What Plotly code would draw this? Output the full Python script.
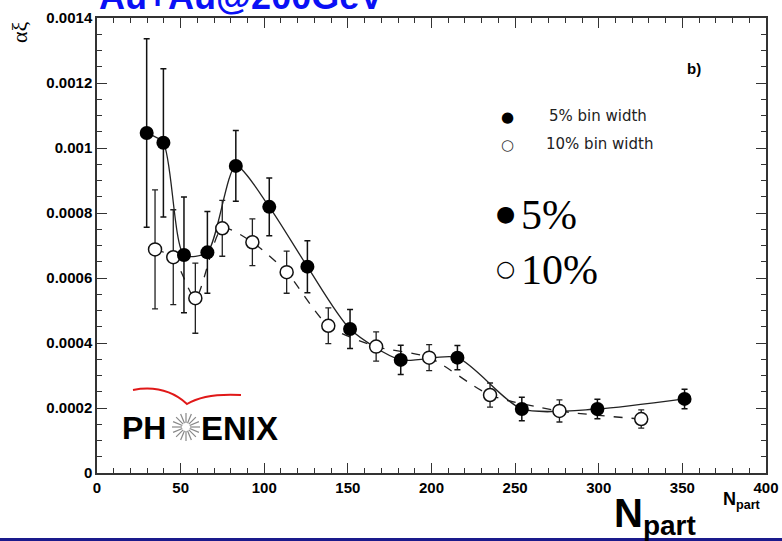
import numpy as np
import plotly.graph_objects as go

# ---- data ----
npart_5 = [29.7, 39.7, 52.0, 66.0, 83.0, 103.0, 125.8, 151.3, 181.6, 215.5, 254.0, 299.2, 351.3]
alpha_5 = [0.001046, 0.001016, 0.000671, 0.000679, 0.000945, 0.000819, 0.000635, 0.000443,
           0.000348, 0.000355, 0.000197, 0.000197, 0.000228]
err_5 = [0.00029, 0.000228, 0.000178, 0.000126, 0.000109, 0.000089, 0.00008, 0.00006,
         0.000045, 0.000037, 0.000036, 0.00003, 0.00003]

npart_10 = [34.7, 45.6, 58.8, 74.9, 92.9, 113.4, 138.3, 166.9, 198.6, 235.0, 276.5, 325.4]
alpha_10 = [0.000688, 0.000664, 0.000538, 0.000753, 0.00071, 0.000618, 0.000453, 0.000389,
            0.000355, 0.00024, 0.000191, 0.000166]
err_10 = [0.000183, 0.000146, 0.000108, 0.000086, 0.000072, 0.000065, 0.000055, 0.000045,
          0.00004, 0.000037, 0.000034, 0.000028]

xerr = 2.5
y_ticks = [0, 0.0002, 0.0004, 0.0006, 0.0008, 0.001, 0.0012, 0.0014]
y_ticktext = ["0", "0.0002", "0.0004", "0.0006", "0.0008", "0.001", "0.0012", "0.0014"]
x_ticks = [0, 50, 100, 150, 200, 250, 300, 350, 400]

W, H = 782, 541
L, R, T, B = 97, 16, 18, 68
PW, PH = W - L - R, H - T - B


def px(x):
    return (x - L) / PW


def py(y):
    return (H - B - y) / PH


fig = go.Figure()

# smooth curves
fig.add_trace(go.Scatter(x=npart_5, y=alpha_5, mode="lines",
                         line=dict(color="#222", width=1.3, shape="spline", smoothing=0.7),
                         hoverinfo="skip", showlegend=False))
fig.add_trace(go.Scatter(x=npart_10, y=alpha_10, mode="lines",
                         line=dict(color="#222", width=1.3, dash="dash", shape="spline", smoothing=0.7),
                         hoverinfo="skip", showlegend=False))

# points
fig.add_trace(go.Scatter(x=npart_10, y=alpha_10, mode="markers",
                         marker=dict(symbol="circle", size=13, color="white", line=dict(color="#111", width=1.5)),
                         error_y=dict(type="data", array=err_10, color="#222", thickness=1.3, width=3),
                         error_x=dict(type="constant", value=xerr, color="#222", thickness=1.3, width=0),
                         showlegend=False))
fig.add_trace(go.Scatter(x=npart_5, y=alpha_5, mode="markers",
                         marker=dict(symbol="circle", size=14, color="black"),
                         error_y=dict(type="data", array=err_5, color="#111", thickness=1.5, width=3),
                         error_x=dict(type="constant", value=xerr, color="#111", thickness=1.5, width=0),
                         showlegend=False))

tickfont = dict(family="Liberation Sans, Arial", size=15, color="black", weight="bold")
fig.update_xaxes(range=[0, 400], tickvals=x_ticks, ticks="inside", ticklen=10, tickwidth=1.2, tickcolor="#333",
                 showline=True, linecolor="#333", linewidth=1.5, mirror="allticks", showgrid=False, zeroline=False,
                 tickfont=tickfont, automargin=False,
                 minor=dict(ticks="inside", ticklen=5, dtick=10, tickcolor="#333", tickwidth=1, showgrid=False))
fig.update_yaxes(range=[0, 0.0014], tickvals=y_ticks, ticktext=y_ticktext, ticks="inside", ticklen=10,
                 tickwidth=1.2, tickcolor="#333", automargin=False,
                 showline=True, linecolor="#333", linewidth=1.5, mirror="allticks", showgrid=False, zeroline=False,
                 tickfont=tickfont,
                 minor=dict(ticks="inside", ticklen=5, dtick=0.00005, tickcolor="#333", tickwidth=1, showgrid=False))


def A(x, y, text, size, family="Liberation Sans, Arial", color="black", xanchor="center", yanchor="middle", **kw):
    return dict(x=px(x), y=py(y), xref="paper", yref="paper", text=text, showarrow=False,
                xanchor=xanchor, yanchor=yanchor, font=dict(family=family, size=size, color=color), **kw)


ann = [
    A(241, -3, "<b>Au+Au@200GeV</b>", 36, color="#0a10f5"),
    A(19, 32, "αξ", 22, family="Liberation Serif, Times", textangle=-90),
    A(694, 68, "<b>b)</b>", 15),
    A(507, 117, "●", 15, family="DejaVu Sans"),
    A(507, 145, "○", 15, family="DejaVu Sans", color="#333"),
    A(547, 116, "5% bin width", 15, family="DejaVu Sans", color="#222", xanchor="left"),
    A(544, 144, "10% bin width", 15, family="DejaVu Sans", color="#222", xanchor="left"),
    A(506, 213, "●", 22, family="DejaVu Sans"),
    A(519, 215, "5%", 42, family="Liberation Serif, Times New Roman", xanchor="left"),
    A(506, 268, "○", 22, family="DejaVu Sans"),
    A(519, 270, "10%", 42, family="Liberation Serif, Times New Roman", xanchor="left"),
    A(120, 428, "<b>PH</b>", 32, xanchor="left"),
    A(199, 428, "<b>ENIX</b>", 33, xanchor="left"),
    A(655, 516, "<b>N</b><sub><b>part</b></sub>", 40),
    A(742, 500, "<b>N</b><sub><b>part</b></sub>", 18),
]

shapes = []
# red arc of logo
shapes.append(dict(type="path", xref="paper", yref="paper",
                   path=f"M {px(133)} {py(390)} Q {px(165)} {py(384)} {px(187)} {py(404)} "
                        f"Q {px(205)} {py(393)} {px(241)} {py(395)}",
                   line=dict(color="#e01818", width=2)))
# starburst
cx, cy, r0, r1 = 186, 427, 4, 14
for a in np.linspace(0, 2 * np.pi, 16, endpoint=False):
    shapes.append(dict(type="line", xref="paper", yref="paper",
                       x0=px(cx + r0 * np.cos(a)), y0=py(cy + r0 * np.sin(a)),
                       x1=px(cx + r1 * np.cos(a)), y1=py(cy + r1 * np.sin(a)),
                       line=dict(color="#888", width=1.2)))
# bottom blue line
shapes.append(dict(type="rect", xref="paper", yref="paper", x0=px(0), x1=px(782), y0=py(541), y1=py(538),
                   fillcolor="#1a1a8c", line=dict(width=0)))

fig.update_layout(width=W, height=H, margin=dict(l=L, r=R, t=T, b=B, autoexpand=False),
                  plot_bgcolor="white", paper_bgcolor="white",
                  annotations=ann, shapes=shapes, showlegend=False)
fig.write_html("out.html")
